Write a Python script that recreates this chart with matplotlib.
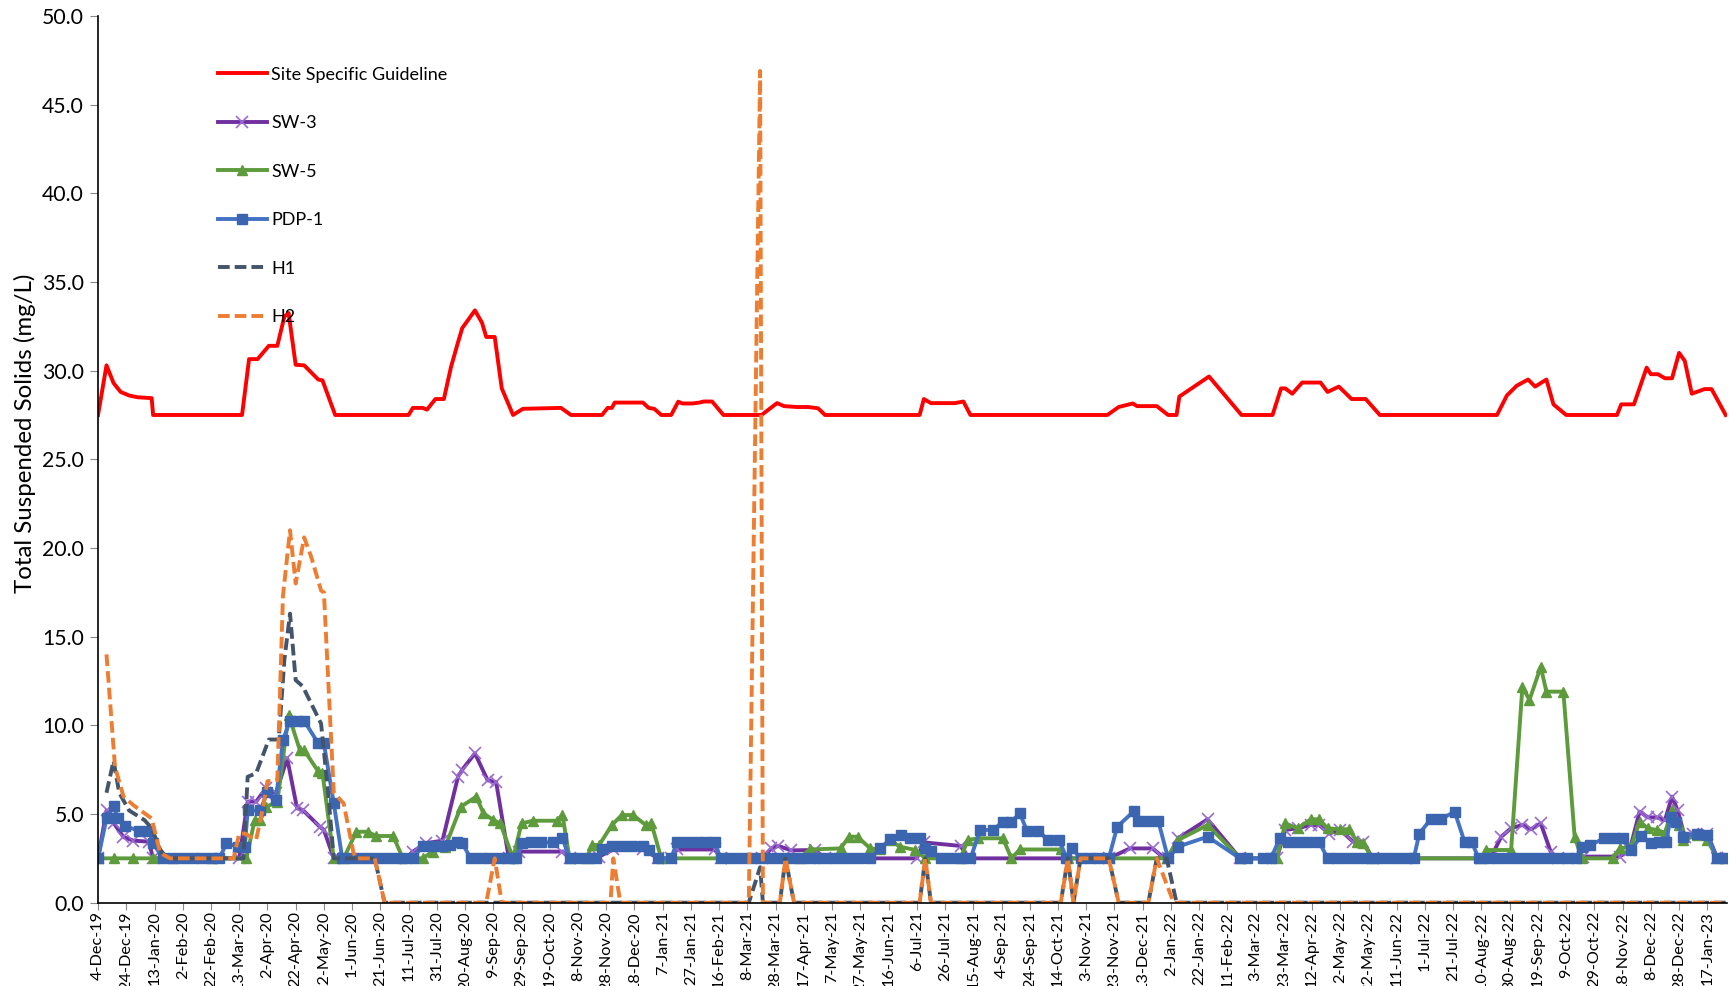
import pandas as pd
import matplotlib
matplotlib.use('Agg')
import matplotlib.pyplot as plt

plt.rcParams['font.family'] = ['Lato', 'DejaVu Sans']

# Site Specific Guideline
guide_dates = ['2019-12-04', '2019-12-10', '2019-12-15', '2019-12-20', '2019-12-26', '2020-01-01', '2020-01-11',
               '2020-01-12', '2020-03-15', '2020-03-20', '2020-03-26', '2020-04-03', '2020-04-09', '2020-04-14',
               '2020-04-17', '2020-04-22', '2020-04-28', '2020-05-08', '2020-05-11', '2020-05-20', '2020-07-11',
               '2020-07-14', '2020-07-21', '2020-07-24', '2020-07-30', '2020-08-05', '2020-08-10', '2020-08-15',
               '2020-08-18', '2020-08-27', '2020-09-01', '2020-09-04', '2020-09-10', '2020-09-15', '2020-09-23',
               '2020-09-30', '2020-10-27', '2020-11-03', '2020-11-25', '2020-11-29', '2020-12-02', '2020-12-04',
               '2020-12-24', '2020-12-28', '2021-01-01', '2021-01-06', '2021-01-13', '2021-01-18', '2021-01-21',
               '2021-01-28', '2021-02-02', '2021-02-05', '2021-02-11', '2021-02-19', '2021-03-18', '2021-03-29',
               '2021-04-03', '2021-04-12', '2021-04-20', '2021-04-27', '2021-05-02', '2021-07-08', '2021-07-11',
               '2021-07-16', '2021-08-02', '2021-08-08', '2021-08-13', '2021-11-18', '2021-11-26', '2021-12-06',
               '2021-12-09', '2021-12-23', '2021-12-31', '2022-01-06', '2022-01-08', '2022-01-29', '2022-02-21',
               '2022-03-15', '2022-03-21', '2022-03-24', '2022-03-29', '2022-04-05', '2022-04-18', '2022-04-23',
               '2022-05-01', '2022-05-10', '2022-05-20', '2022-05-30', '2022-08-21', '2022-08-28', '2022-09-04',
               '2022-09-12', '2022-09-17', '2022-09-25', '2022-09-30', '2022-10-09', '2022-11-14', '2022-11-17',
               '2022-11-26', '2022-12-05', '2022-12-08', '2022-12-13', '2022-12-18', '2022-12-23', '2022-12-28',
               '2023-01-01', '2023-01-06', '2023-01-15', '2023-01-20', '2023-01-30']
guide_vals = [27.5, 30.3, 29.3, 28.8, 28.6, 28.5, 28.45,
              27.5, 27.5, 30.65, 30.65, 31.4, 31.4, 33.05,
              33.25, 30.33, 30.3, 29.5, 29.45, 27.5, 27.5,
              27.9, 27.9, 27.8, 28.4, 28.4, 30.2, 31.6,
              32.4, 33.4, 32.7, 31.9, 31.9, 29.0, 27.5,
              27.85, 27.9, 27.5, 27.5, 27.9, 27.9, 28.2,
              28.2, 27.9, 27.85, 27.5, 27.5, 28.25, 28.15,
              28.15, 28.2, 28.26, 28.26, 27.5, 27.5, 28.17,
              28.0, 27.95, 27.95, 27.88, 27.5, 27.5, 28.4,
              28.17, 28.17, 28.26, 27.5, 27.5, 27.95, 28.15,
              28.0, 28.0, 27.5, 27.5, 28.54, 29.67, 27.5,
              27.5, 29.0, 29.0, 28.7, 29.33, 29.33, 28.8,
              29.1, 28.4, 28.4, 27.5, 27.5, 28.6, 29.15,
              29.5, 29.1, 29.5, 28.1, 27.5, 27.5, 28.1,
              28.1, 30.17, 29.8, 29.8, 29.57, 29.57, 31.0,
              30.55, 28.7, 28.96, 28.96, 27.5]

# SW-3
sw3_dates = ['2019-12-04', '2019-12-10', '2019-12-15', '2019-12-22', '2019-12-29', '2020-01-09', '2020-01-12',
             '2020-03-13', '2020-03-19', '2020-03-25', '2020-04-01', '2020-04-08', '2020-04-16', '2020-04-23',
             '2020-04-27', '2020-05-09', '2020-05-12', '2020-05-19', '2020-07-09', '2020-07-14', '2020-07-23',
             '2020-08-04', '2020-08-15', '2020-08-18', '2020-08-27', '2020-09-05', '2020-09-11', '2020-09-20',
             '2020-09-27', '2020-10-28', '2020-11-02', '2020-11-23', '2020-12-03', '2020-12-24', '2021-01-04',
             '2021-01-13', '2021-01-17', '2021-02-13', '2021-02-17', '2021-03-18', '2021-03-25', '2021-03-30',
             '2021-04-08', '2021-04-25', '2021-05-02', '2021-07-06', '2021-07-11', '2021-08-06', '2021-08-12',
             '2021-11-19', '2021-12-04', '2021-12-20', '2021-12-27', '2021-12-31', '2022-01-07', '2022-01-28',
             '2022-02-20', '2022-03-18', '2022-03-24', '2022-04-02', '2022-04-11', '2022-04-17', '2022-04-24',
             '2022-05-02', '2022-05-11', '2022-05-18', '2022-05-25', '2022-08-10', '2022-08-17', '2022-08-24',
             '2022-08-31', '2022-09-08', '2022-09-14', '2022-09-21', '2022-09-28', '2022-10-03', '2022-10-21',
             '2022-11-16', '2022-11-23', '2022-11-30', '2022-12-06', '2022-12-12', '2022-12-18', '2022-12-23',
             '2022-12-27', '2023-01-01', '2023-01-07', '2023-01-17', '2023-01-24', '2023-01-30']
sw3_vals = [2.5, 5.2, 4.5, 3.7, 3.5, 3.44, 2.5,
            2.5, 5.7, 5.7, 6.45, 6.17, 8.14, 5.32,
            5.23, 4.29, 4.1, 2.5, 2.5, 2.88, 3.35,
            3.5, 7.1, 7.5, 8.42, 6.9, 6.8, 2.5,
            2.88, 2.88, 2.5, 2.6, 3.0, 3.0, 2.5,
            2.5, 3.0, 3.0, 2.5, 2.5, 3.06, 3.2,
            2.95, 2.97, 2.5, 2.5, 3.4, 3.2, 2.5,
            2.5, 3.06, 3.06, 2.6, 2.5, 3.63, 4.7,
            2.5, 2.5, 4.1, 4.2, 4.38, 4.38, 3.9,
            4.1, 3.44, 3.44, 2.5, 2.5, 2.6, 3.72,
            4.2, 4.38, 4.14, 4.47, 2.88, 2.5, 2.6,
            2.6, 2.97, 5.13, 4.81, 4.81, 4.66, 5.98,
            5.2, 3.72, 3.9, 3.9, 2.5, 2.5]

# SW-5
sw5_dates = ['2019-12-04', '2019-12-15', '2019-12-29', '2020-01-12', '2020-01-26', '2020-02-23', '2020-03-18',
             '2020-03-24', '2020-03-28', '2020-04-01', '2020-04-09', '2020-04-17', '2020-04-25', '2020-04-28',
             '2020-05-08', '2020-05-11', '2020-05-19', '2020-05-26', '2020-06-04', '2020-06-12', '2020-06-18',
             '2020-06-30', '2020-07-07', '2020-07-21', '2020-07-28', '2020-08-06', '2020-08-17', '2020-08-28',
             '2020-09-02', '2020-09-09', '2020-09-14', '2020-09-23', '2020-09-29', '2020-10-07', '2020-10-24',
             '2020-10-28', '2020-11-02', '2020-11-14', '2020-11-18', '2020-11-23', '2020-12-02', '2020-12-09',
             '2020-12-17', '2020-12-26', '2020-12-30', '2021-01-06', '2021-04-14', '2021-04-21', '2021-05-13',
             '2021-05-19', '2021-05-25', '2021-06-03', '2021-06-10', '2021-06-17', '2021-06-24', '2021-07-05',
             '2021-07-12', '2021-08-06', '2021-08-11', '2021-08-18', '2021-09-05', '2021-09-11', '2021-09-17',
             '2021-10-16', '2021-10-21', '2021-12-30', '2022-01-07', '2022-01-28', '2022-02-20', '2022-03-18',
             '2022-03-24', '2022-04-02', '2022-04-11', '2022-04-17', '2022-04-23', '2022-05-02', '2022-05-08',
             '2022-05-14', '2022-05-18', '2022-05-25', '2022-08-10', '2022-08-13', '2022-08-31', '2022-09-08',
             '2022-09-13', '2022-09-21', '2022-09-25', '2022-10-07', '2022-10-15', '2022-10-20', '2022-11-11',
             '2022-11-16', '2022-11-24', '2022-11-30', '2022-12-06', '2022-12-12', '2022-12-18', '2022-12-23',
             '2022-12-28', '2022-12-31', '2023-01-10', '2023-01-17', '2023-01-24', '2023-01-30']
sw5_vals = [2.5, 2.5, 2.5, 2.5, 2.5, 2.5, 2.5,
            4.66, 4.66, 5.4, 5.7, 10.58, 8.6, 8.6,
            7.4, 7.3, 2.5, 2.5, 4.0, 4.0, 3.76,
            3.76, 2.5, 2.5, 2.88, 3.16, 5.41, 5.98,
            5.04, 4.66, 4.47, 2.5, 4.47, 4.62, 4.62,
            4.94, 2.5, 2.5, 3.25, 3.25, 4.38, 4.94,
            4.94, 4.38, 4.47, 2.5, 2.5, 3.0, 3.06,
            3.72, 3.72, 3.06, 3.0, 3.53, 3.16, 2.97,
            2.5, 2.5, 3.53, 3.63, 3.63, 2.5, 3.0,
            3.0, 2.5, 2.5, 3.53, 4.38, 2.5, 2.5,
            4.47, 4.19, 4.7, 4.7, 4.19, 4.14, 4.14,
            3.44, 3.35, 2.5, 2.5, 2.97, 2.97, 12.18,
            11.43, 13.3, 11.9, 11.9, 3.72, 2.5, 2.5,
            3.06, 3.16, 4.57, 4.19, 4.1, 3.95, 5.23,
            4.38, 3.53, 3.82, 3.53, 2.5, 2.5]

# PDP-1
pdp_dates = ['2019-12-04', '2019-12-10', '2019-12-15', '2019-12-18', '2019-12-23', '2020-01-02', '2020-01-09',
             '2020-01-12', '2020-01-19', '2020-01-26', '2020-02-02', '2020-02-09', '2020-02-16', '2020-02-23',
             '2020-02-28', '2020-03-04', '2020-03-12', '2020-03-17', '2020-03-19', '2020-03-28', '2020-04-02',
             '2020-04-08', '2020-04-13', '2020-04-18', '2020-04-23', '2020-04-28', '2020-05-08', '2020-05-12',
             '2020-05-19', '2020-05-25', '2020-06-01', '2020-06-08', '2020-06-15', '2020-06-22', '2020-06-29',
             '2020-07-06', '2020-07-14', '2020-07-21', '2020-07-28', '2020-08-04', '2020-08-09', '2020-08-14',
             '2020-08-18', '2020-08-24', '2020-08-31', '2020-09-07', '2020-09-14', '2020-09-20', '2020-09-25',
             '2020-09-29', '2020-10-06', '2020-10-13', '2020-10-21', '2020-10-28', '2020-11-02', '2020-11-09',
             '2020-11-16', '2020-11-21', '2020-11-25', '2020-12-02', '2020-12-09', '2020-12-16', '2020-12-24',
             '2020-12-28', '2021-01-04', '2021-01-13', '2021-01-17', '2021-01-24', '2021-01-31', '2021-02-07',
             '2021-02-13', '2021-02-17', '2021-02-24', '2021-03-03', '2021-03-10', '2021-03-17', '2021-03-24',
             '2021-03-31', '2021-04-07', '2021-04-14', '2021-04-21', '2021-04-28', '2021-05-05', '2021-05-12',
             '2021-05-19', '2021-05-26', '2021-06-03', '2021-06-10', '2021-06-17', '2021-06-25', '2021-07-01',
             '2021-07-08', '2021-07-12', '2021-07-16', '2021-07-23', '2021-07-30', '2021-08-06', '2021-08-13',
             '2021-08-20', '2021-08-29', '2021-09-05', '2021-09-11', '2021-09-17', '2021-09-22', '2021-09-30',
             '2021-10-07', '2021-10-15', '2021-10-20', '2021-10-24', '2021-10-30', '2021-11-06', '2021-11-12',
             '2021-11-19', '2021-11-25', '2021-12-07', '2021-12-10', '2021-12-17', '2021-12-24', '2021-12-31',
             '2022-01-07', '2022-01-28', '2022-02-20', '2022-02-25', '2022-03-08', '2022-03-14', '2022-03-20',
             '2022-03-26', '2022-04-02', '2022-04-09', '2022-04-17', '2022-04-23', '2022-04-30', '2022-05-07',
             '2022-05-14', '2022-05-21', '2022-05-28', '2022-06-04', '2022-06-11', '2022-06-18', '2022-06-23',
             '2022-06-27', '2022-07-05', '2022-07-12', '2022-07-22', '2022-07-29', '2022-08-03', '2022-08-08',
             '2022-08-15', '2022-08-22', '2022-08-29', '2022-09-05', '2022-09-12', '2022-09-19', '2022-09-26',
             '2022-10-03', '2022-10-10', '2022-10-16', '2022-10-20', '2022-10-26', '2022-11-05', '2022-11-12',
             '2022-11-18', '2022-11-24', '2022-12-01', '2022-12-08', '2022-12-14', '2022-12-19', '2022-12-22',
             '2022-12-26', '2022-12-31', '2023-01-10', '2023-01-17', '2023-01-24', '2023-01-30']
pdp_vals = [2.5, 4.75, 5.45, 4.75, 4.32, 4.06, 4.06,
            3.35, 2.5, 2.5, 2.5, 2.5, 2.5, 2.5,
            2.5, 3.35, 3.16, 3.16, 5.2, 5.2, 6.26,
            5.79, 9.17, 10.26, 10.26, 10.26, 8.98, 8.98,
            5.6, 2.5, 2.5, 2.5, 2.5, 2.5, 2.5,
            2.5, 2.5, 3.2, 3.2, 3.2, 3.25, 3.44,
            3.35, 2.5, 2.5, 2.5, 2.5, 2.5, 2.5,
            3.35, 3.4, 3.4, 3.4, 3.63, 2.5, 2.5,
            2.5, 2.5, 3.0, 3.2, 3.2, 3.2, 3.2,
            2.97, 2.5, 2.5, 3.4, 3.4, 3.4, 3.4,
            3.4, 2.5, 2.5, 2.5, 2.5, 2.5, 2.5,
            2.5, 2.5, 2.5, 2.5, 2.5, 2.5, 2.5,
            2.5, 2.5, 2.5, 3.06, 3.57, 3.82, 3.63,
            3.63, 3.06, 2.93, 2.5, 2.5, 2.5, 2.5,
            4.1, 4.1, 4.57, 4.57, 5.04, 4.06, 4.06,
            3.53, 3.53, 2.5, 3.06, 2.5, 2.5, 2.5,
            2.5, 4.29, 5.17, 4.62, 4.62, 4.62, 2.5,
            3.16, 3.72, 2.5, 2.5, 2.5, 2.5, 3.63,
            3.44, 3.44, 3.44, 3.44, 2.5, 2.5, 2.5,
            2.5, 2.5, 2.5, 2.5, 2.5, 2.5, 2.5,
            3.9, 4.7, 4.7, 5.13, 3.44, 3.44, 2.5,
            2.5, 2.5, 2.5, 2.5, 2.5, 2.5, 2.5,
            2.5, 2.5, 2.5, 3.16, 3.25, 3.63, 3.63,
            3.63, 2.97, 3.76, 3.35, 3.44, 3.44, 4.85,
            4.57, 3.72, 3.9, 3.82, 2.5, 2.5]

# H1
h1_dates = ['2019-12-10', '2019-12-15', '2019-12-19', '2019-12-26', '2020-01-06', '2020-01-11', '2020-01-17',
            '2020-01-22', '2020-03-16', '2020-03-19', '2020-03-25', '2020-04-03', '2020-04-10', '2020-04-14',
            '2020-04-18', '2020-04-22', '2020-04-27', '2020-05-10', '2020-05-15', '2020-05-19', '2020-06-17',
            '2020-06-24', '2021-03-09', '2021-03-17', '2021-03-19', '2021-03-31', '2021-04-04', '2021-04-10',
            '2021-07-08', '2021-07-12', '2021-07-16', '2021-10-16', '2021-10-21', '2021-10-25', '2021-10-30',
            '2021-11-19', '2021-11-26', '2021-12-17', '2021-12-23', '2021-12-30', '2022-01-06', '2023-01-30']
h1_vals = [6.2, 8.0, 6.2, 5.2, 4.65, 4.2, 3.0,
           2.5, 2.5, 7.1, 7.3, 9.2, 9.2, 13.7,
           16.3, 12.55, 12.2, 10.1, 6.2, 2.5, 2.5,
           0.0, 0.0, 2.0, 0.0, 0.0, 2.5, 0.0,
           0.0, 2.5, 0.0, 0.0, 2.5, 0.0, 2.5,
           2.5, 0.0, 0.0, 2.5, 2.5, 0.0, 0.0]

# H2
h2_dates = ['2019-12-10', '2019-12-16', '2019-12-22', '2019-12-29', '2020-01-11', '2020-01-17', '2020-01-24',
            '2020-03-09', '2020-03-13', '2020-03-17', '2020-03-25', '2020-03-30', '2020-04-02', '2020-04-09',
            '2020-04-13', '2020-04-18', '2020-04-22', '2020-04-28', '2020-05-03', '2020-05-10', '2020-05-12',
            '2020-05-19', '2020-05-26', '2020-06-02', '2020-06-04', '2020-06-17', '2020-06-24', '2020-09-04',
            '2020-09-10', '2020-09-15', '2020-12-01', '2020-12-03', '2020-12-08', '2021-03-09', '2021-03-17',
            '2021-03-19', '2021-03-31', '2021-04-04', '2021-04-10', '2021-07-08', '2021-07-12', '2021-07-16',
            '2021-10-16', '2021-10-21', '2021-10-25', '2021-10-30', '2021-11-19', '2021-11-26', '2021-12-17',
            '2021-12-23', '2022-01-04', '2023-01-30']
h2_vals = [14.0, 7.67, 6.0, 5.5, 4.75, 2.8, 2.5,
           2.5, 3.9, 3.9, 3.55, 5.4, 6.85, 6.9,
           17.3, 21.0, 18.0, 20.6, 19.5, 17.6, 17.5,
           6.2, 5.6, 2.8, 2.5, 2.5, 0.0, 0.0,
           2.5, 0.0, 0.0, 2.5, 0.0, 0.0, 46.9,
           0.0, 0.0, 2.5, 0.0, 0.0, 2.5, 0.0,
           0.0, 2.5, 0.0, 2.5, 2.5, 0.0, 0.0,
           2.5, 0.0, 0.0]

fig = plt.figure(figsize=(17.29, 9.86), dpi=100)
ax = fig.add_axes([0.0567, 0.0845, 0.9422, 0.8993])

lw = 2.8
ax.plot(pd.to_datetime(guide_dates), guide_vals, color='#FF0000', lw=lw, label='Site Specific Guideline')
ax.plot(pd.to_datetime(sw3_dates), sw3_vals, color='#7030A0', lw=lw, marker='x', ms=8, mew=1.2,
        mec='#9A6BD3', label='SW-3')
ax.plot(pd.to_datetime(sw5_dates), sw5_vals, color='#5E9B3C', lw=lw, marker='^', ms=7,
        mfc='#5E9B3C', mec='#5E9B3C', label='SW-5')
ax.plot(pd.to_datetime(pdp_dates), pdp_vals, color='#4472C4', lw=lw, marker='s', ms=7.5,
        mfc='#3C65B0', mec='#3C65B0', label='PDP-1')
ax.plot(pd.to_datetime(h1_dates), h1_vals, color='#44546A', lw=lw, dashes=(3, 1.3), label='H1')
ax.plot(pd.to_datetime(h2_dates), h2_vals, color='#ED7D31', lw=lw, dashes=(3, 1.3), label='H2')

ax.set_ylim(0, 50)
ax.set_yticks(range(0, 51, 5))
ax.set_yticklabels([f'{v:.1f}' for v in range(0, 51, 5)])
ax.set_xlim(pd.Timestamp('2019-12-04'), pd.Timestamp('2023-01-31'))
xticks = pd.date_range('2019-12-04', '2023-01-31', freq='20D')
ax.set_xticks(xticks)
ax.set_xticklabels([f"{d.day}-{d.strftime('%b-%y')}" for d in xticks], rotation=90)

for side in ['top', 'right']:
    ax.spines[side].set_visible(False)
ax.spines['left'].set_linewidth(1.2)
ax.spines['bottom'].set_linewidth(1.2)
ax.tick_params(axis='y', direction='out', length=6, color='#888888', labelsize=15.3, pad=4)
ax.tick_params(axis='x', direction='out', length=5, color='#888888', labelsize=11.7, pad=1)
ax.set_ylabel('Total Suspended Solids (mg/L)', fontsize=17.3)
ax.yaxis.set_label_coords(-0.038, 0.529)

ax.legend(loc='upper left', bbox_to_anchor=(0.069, 0.951), frameon=False, fontsize=13,
          handlelength=2.75, handletextpad=0.2, labelspacing=1.8, borderaxespad=0)

fig.savefig('out.png', dpi=100)
